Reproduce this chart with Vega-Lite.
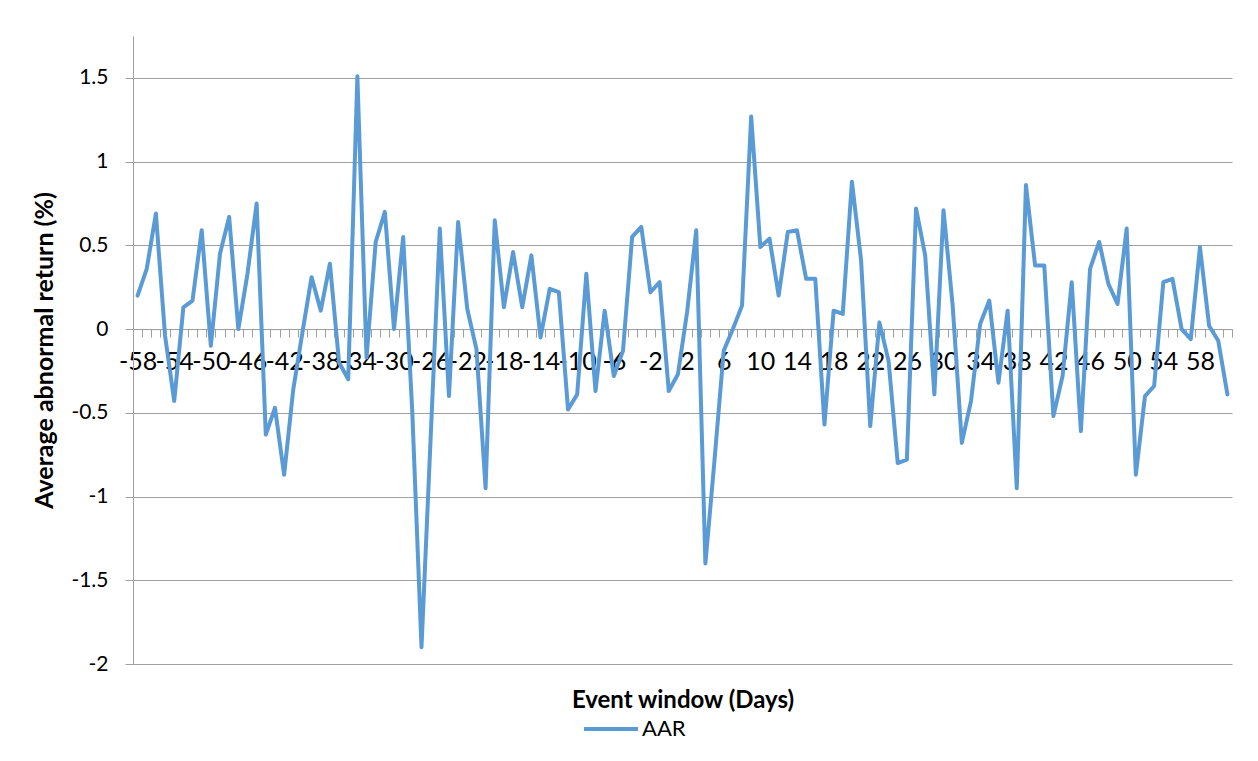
{
  "$schema": "https://vega.github.io/schema/vega-lite/v6.json",
  "width": 1099,
  "height": 628,
  "autosize": {"type": "none"},
  "padding": {"left": 133, "top": 36, "right": 26, "bottom": 97},
  "background": "white",
  "config": {
    "view": {"stroke": null},
    "font": "Lato",
    "axis": {"labelFont": "Lato", "titleFont": "Lato", "labelColor": "#000000", "titleColor": "#000000"}
  },
  "data": {"values": [
    {"day": -58, "aar": 0.20}, {"day": -57, "aar": 0.36}, {"day": -56, "aar": 0.69}, {"day": -55, "aar": -0.04},
    {"day": -54, "aar": -0.43}, {"day": -53, "aar": 0.13}, {"day": -52, "aar": 0.17}, {"day": -51, "aar": 0.59},
    {"day": -50, "aar": -0.10}, {"day": -49, "aar": 0.45}, {"day": -48, "aar": 0.67}, {"day": -47, "aar": 0.00},
    {"day": -46, "aar": 0.33}, {"day": -45, "aar": 0.75}, {"day": -44, "aar": -0.63}, {"day": -43, "aar": -0.47},
    {"day": -42, "aar": -0.87}, {"day": -41, "aar": -0.36}, {"day": -40, "aar": -0.02}, {"day": -39, "aar": 0.31},
    {"day": -38, "aar": 0.11}, {"day": -37, "aar": 0.39}, {"day": -36, "aar": -0.20}, {"day": -35, "aar": -0.30},
    {"day": -34, "aar": 1.51}, {"day": -33, "aar": -0.17}, {"day": -32, "aar": 0.52}, {"day": -31, "aar": 0.70},
    {"day": -30, "aar": 0.00}, {"day": -29, "aar": 0.55}, {"day": -28, "aar": -0.50}, {"day": -27, "aar": -1.90},
    {"day": -26, "aar": -0.65}, {"day": -25, "aar": 0.60}, {"day": -24, "aar": -0.40}, {"day": -23, "aar": 0.64},
    {"day": -22, "aar": 0.12}, {"day": -21, "aar": -0.12}, {"day": -20, "aar": -0.95}, {"day": -19, "aar": 0.65},
    {"day": -18, "aar": 0.13}, {"day": -17, "aar": 0.46}, {"day": -16, "aar": 0.13}, {"day": -15, "aar": 0.44},
    {"day": -14, "aar": -0.05}, {"day": -13, "aar": 0.24}, {"day": -12, "aar": 0.22}, {"day": -11, "aar": -0.48},
    {"day": -10, "aar": -0.39}, {"day": -9, "aar": 0.33}, {"day": -8, "aar": -0.37}, {"day": -7, "aar": 0.11},
    {"day": -6, "aar": -0.28}, {"day": -5, "aar": -0.13}, {"day": -4, "aar": 0.55}, {"day": -3, "aar": 0.61},
    {"day": -2, "aar": 0.22}, {"day": -1, "aar": 0.28}, {"day": 0, "aar": -0.37}, {"day": 1, "aar": -0.27},
    {"day": 2, "aar": 0.10}, {"day": 3, "aar": 0.59}, {"day": 4, "aar": -1.40}, {"day": 5, "aar": -0.78},
    {"day": 6, "aar": -0.13}, {"day": 7, "aar": 0.00}, {"day": 8, "aar": 0.14}, {"day": 9, "aar": 1.27},
    {"day": 10, "aar": 0.49}, {"day": 11, "aar": 0.54}, {"day": 12, "aar": 0.20}, {"day": 13, "aar": 0.58},
    {"day": 14, "aar": 0.59}, {"day": 15, "aar": 0.30}, {"day": 16, "aar": 0.30}, {"day": 17, "aar": -0.57},
    {"day": 18, "aar": 0.11}, {"day": 19, "aar": 0.09}, {"day": 20, "aar": 0.88}, {"day": 21, "aar": 0.41},
    {"day": 22, "aar": -0.58}, {"day": 23, "aar": 0.04}, {"day": 24, "aar": -0.19}, {"day": 25, "aar": -0.80},
    {"day": 26, "aar": -0.78}, {"day": 27, "aar": 0.72}, {"day": 28, "aar": 0.44}, {"day": 29, "aar": -0.39},
    {"day": 30, "aar": 0.71}, {"day": 31, "aar": 0.14}, {"day": 32, "aar": -0.68}, {"day": 33, "aar": -0.43},
    {"day": 34, "aar": 0.03}, {"day": 35, "aar": 0.17}, {"day": 36, "aar": -0.32}, {"day": 37, "aar": 0.11},
    {"day": 38, "aar": -0.95}, {"day": 39, "aar": 0.86}, {"day": 40, "aar": 0.38}, {"day": 41, "aar": 0.38},
    {"day": 42, "aar": -0.52}, {"day": 43, "aar": -0.28}, {"day": 44, "aar": 0.28}, {"day": 45, "aar": -0.61},
    {"day": 46, "aar": 0.36}, {"day": 47, "aar": 0.52}, {"day": 48, "aar": 0.27}, {"day": 49, "aar": 0.15},
    {"day": 50, "aar": 0.60}, {"day": 51, "aar": -0.87}, {"day": 52, "aar": -0.40}, {"day": 53, "aar": -0.34},
    {"day": 54, "aar": 0.28}, {"day": 55, "aar": 0.30}, {"day": 56, "aar": 0.00}, {"day": 57, "aar": -0.06},
    {"day": 58, "aar": 0.49}, {"day": 59, "aar": 0.02}, {"day": 60, "aar": -0.07}, {"day": 61, "aar": -0.39}
  ]},
  "mark": {"type": "line", "strokeWidth": 4, "strokeJoin": "round", "strokeCap": "round"},
  "encoding": {
    "x": {
      "field": "day",
      "type": "ordinal",
      "sort": "ascending",
      "scale": {"type": "band", "paddingInner": 0, "paddingOuter": 0},
      "axis": {
        "offset": -334.93,
        "tickBand": "extent",
        "labelAngle": 0,
        "labelOverlap": false,
        "labelBound": false,
        "labelFlush": false,
        "labelExpr": "abs(datum.value) % 4 == 2 ? '' + datum.value : ''",
        "labelFontSize": 25,
        "labelPadding": 12,
        "tickSize": 8,
        "tickColor": "#a0a0a0",
        "tickWidth": 1,
        "domainColor": "#a0a0a0",
        "domainWidth": 1,
        "grid": false,
        "title": "Event window (Days)",
        "titleFontSize": 24,
        "titleFontWeight": "bold",
        "titlePadding": 314
      }
    },
    "y": {
      "field": "aar",
      "type": "quantitative",
      "scale": {"domain": [-2, 1.75], "nice": false, "zero": false},
      "axis": {
        "values": [-2, -1.5, -1, -0.5, 0, 0.5, 1, 1.5],
        "labelExpr": "'' + datum.value",
        "labelFontSize": 21,
        "labelPadding": 17,
        "tickSize": 8,
        "tickColor": "#a0a0a0",
        "domainColor": "#a0a0a0",
        "gridColor": "#a0a0a0",
        "gridWidth": 1,
        "title": "Average abnormal return (%)",
        "titleFontSize": 25,
        "titleFontWeight": "bold",
        "titlePadding": 13
      }
    },
    "color": {
      "datum": "AAR",
      "type": "nominal",
      "scale": {"range": ["#5B9BD5"]},
      "legend": {
        "title": null,
        "orient": "none",
        "legendX": 449,
        "legendY": 664,
        "padding": 0,
        "symbolType": "stroke",
        "symbolStrokeWidth": 4,
        "symbolSize": 2916,
        "labelFont": "Lato",
        "labelFontSize": 22,
        "labelColor": "#000000",
        "labelOffset": 2
      }
    }
  }
}
